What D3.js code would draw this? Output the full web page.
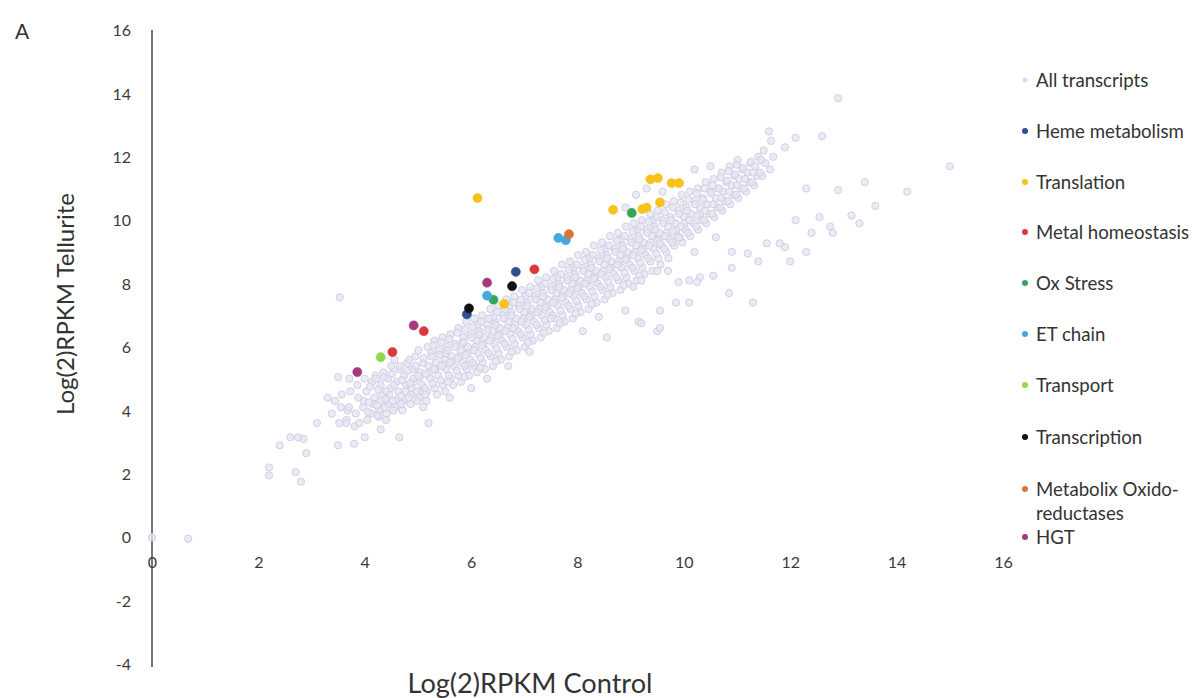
<!DOCTYPE html>
<html><head><meta charset="utf-8">
<script src="https://cdn.jsdelivr.net/npm/d3@7"></script>
<style>
html,body{margin:0;padding:0;background:#fff;}
svg{display:block;font-family:Lato,"Open Sans",sans-serif;}
</style></head>
<body>
<svg id="chart" width="1193" height="698"></svg>
<script>
// ---- data (log2 RPKM Control, log2 RPKM Tellurite) ----
const xTicks = [0,2,4,6,8,10,12,14,16];
const yTicks = [-4,-2,0,2,4,6,8,10,12,14,16];
const categories = ["All transcripts","Heme metabolism","Translation","Metal homeostasis","Ox Stress","ET chain","Transport","Transcription","Metabolix Oxido-\nreductases","HGT"];
const categoryColors = ["#dcdcee","#2f4f92","#f7c21c","#d9393c","#35a558","#46a8df","#90d84c","#111111","#dc7437","#a33a7b"];

const allTranscripts = [
[3.38,3.9],[3.44,4.3],[3.52,3.6],[3.57,4.5],[3.55,4.1],[3.68,4.0],[3.73,4.6],[3.66,3.7],[3.71,5.0],
[3.83,3.9],[3.88,4.4],[3.86,4.8],[3.81,3.5],[3.97,4.1],[4.03,4.6],[4.0,5.0],[4.05,3.7],[3.98,4.3],
[4.12,3.9],[4.18,4.4],[4.14,4.9],[4.2,5.1],[4.16,4.2],[4.27,4.0],[4.33,4.5],[4.3,4.8],[4.35,5.2],[4.26,3.8],[4.31,4.3],
[4.43,4.2],[4.48,4.7],[4.44,5.0],[4.5,5.4],[4.41,3.9],[4.46,4.5],[4.57,4.1],[4.63,4.6],[4.6,4.9],[4.65,5.3],[4.56,5.6],[4.61,4.35],
[4.72,4.3],[4.78,4.8],[4.74,5.1],[4.8,5.5],[4.71,4.0],[4.76,4.6],[4.87,4.5],[4.93,4.9],[4.9,5.3],[4.95,5.7],[4.86,4.2],[4.91,5.0],[4.88,4.7],
[5.02,4.4],[5.08,4.8],[5.04,5.2],[5.1,5.5],[5.01,5.9],[5.06,4.6],[5.03,5.05],[5.17,4.6],[5.23,5.0],[5.2,5.4],[5.25,5.8],[5.16,4.3],[5.21,5.2],[5.18,6.0],
[5.32,4.7],[5.38,5.1],[5.34,5.5],[5.4,5.9],[5.31,6.2],[5.36,4.5],[5.33,5.3],[5.47,4.8],[5.53,5.3],[5.5,5.6],[5.55,6.0],[5.46,6.3],[5.51,4.6],[5.48,5.45],[5.52,5.8],
[5.62,5.0],[5.68,5.4],[5.64,5.7],[5.7,6.1],[5.61,6.4],[5.66,4.8],[5.63,5.55],[5.77,5.1],[5.83,5.5],[5.8,5.9],[5.85,6.3],[5.76,6.6],[5.81,4.9],[5.78,5.7],[5.82,6.1],
[5.92,5.3],[5.98,5.6],[5.94,6.0],[6.0,6.4],[5.91,6.8],[5.96,5.1],[5.93,5.8],[6.07,5.4],[6.13,5.8],[6.1,6.2],[6.15,6.5],[6.06,6.9],[6.11,5.2],[6.08,6.0],[6.12,6.7],
[6.22,5.5],[6.28,5.9],[6.24,6.3],[6.3,6.7],[6.21,7.0],[6.26,5.3],[6.23,6.1],[6.37,5.7],[6.43,6.1],[6.4,6.5],[6.45,6.8],[6.36,7.2],[6.41,5.4],[6.38,6.3],[6.42,6.95],
[6.52,5.8],[6.58,6.2],[6.54,6.6],[6.6,7.0],[6.51,7.3],[6.56,5.6],[6.53,6.4],[6.67,6.0],[6.73,6.4],[6.7,6.8],[6.75,7.1],[6.66,7.5],[6.71,5.7],[6.68,6.6],[6.72,7.3],
[6.82,6.1],[6.88,6.5],[6.84,6.9],[6.9,7.3],[6.81,7.6],[6.86,5.9],[6.83,6.7],[6.97,6.3],[7.03,6.7],[7.0,7.1],[7.05,7.4],[6.96,7.8],[7.01,6.0],[6.98,6.9],[7.02,7.6],
[7.12,6.4],[7.18,6.8],[7.14,7.2],[7.2,7.6],[7.11,7.9],[7.16,6.2],[7.13,7.0],[7.27,6.6],[7.33,7.0],[7.3,7.4],[7.35,7.7],[7.26,8.1],[7.31,6.3],[7.28,7.2],[7.32,7.9],
[7.42,6.7],[7.48,7.1],[7.44,7.5],[7.5,7.9],[7.41,8.2],[7.46,6.5],[7.43,7.3],[7.57,6.9],[7.63,7.3],[7.6,7.7],[7.65,8.0],[7.56,8.4],[7.61,6.6],[7.58,7.5],[7.62,8.2],
[7.72,7.0],[7.78,7.4],[7.74,7.8],[7.8,8.2],[7.71,8.6],[7.76,6.8],[7.73,7.6],[7.87,7.2],[7.93,7.6],[7.9,8.0],[7.95,8.3],[7.86,8.7],[7.91,6.9],[7.88,7.8],[7.92,8.5],
[8.02,7.3],[8.08,7.7],[8.04,8.1],[8.1,8.5],[8.01,8.9],[8.06,7.1],[8.03,7.9],[8.17,7.5],[8.23,7.9],[8.2,8.3],[8.25,8.6],[8.16,9.0],[8.21,7.2],[8.18,8.1],[8.22,8.8],
[8.32,7.6],[8.38,8.0],[8.34,8.4],[8.4,8.8],[8.31,9.2],[8.36,7.4],[8.33,8.2],[8.47,7.8],[8.53,8.2],[8.5,8.6],[8.55,8.9],[8.46,9.3],[8.51,7.5],[8.48,8.4],[8.52,9.1],
[8.62,7.9],[8.68,8.3],[8.64,8.7],[8.7,9.1],[8.61,9.5],[8.66,7.7],[8.63,8.5],[8.77,8.1],[8.83,8.5],[8.8,8.9],[8.85,9.2],[8.76,9.6],[8.81,7.8],[8.78,8.7],[8.82,9.4],
[8.92,8.2],[8.98,8.6],[8.94,9.0],[9.0,9.4],[8.91,9.8],[8.96,8.0],[8.93,8.8],[9.07,8.4],[9.13,8.8],[9.1,9.2],[9.15,9.5],[9.06,9.9],[9.11,8.1],[9.08,9.0],[9.12,9.7],
[9.22,8.5],[9.28,8.9],[9.24,9.3],[9.3,9.7],[9.21,10.0],[9.26,8.3],[9.23,9.1],[9.37,8.7],[9.43,9.1],[9.4,9.5],[9.45,9.8],[9.36,10.2],[9.41,8.4],[9.38,9.3],[9.42,10.0],
[9.52,8.8],[9.58,9.2],[9.54,9.6],[9.6,10.0],[9.51,10.3],[9.56,8.6],[9.53,9.4],[9.67,9.0],[9.73,9.4],[9.7,9.8],[9.75,10.1],[9.66,10.5],[9.71,8.8],[9.68,9.6],
[9.82,9.2],[9.88,9.5],[9.84,9.9],[9.9,10.3],[9.81,10.6],[9.86,9.7],[9.97,9.3],[10.03,9.7],[10.0,10.1],[10.05,10.4],[9.96,10.8],[10.01,9.9],
[10.12,9.5],[10.18,9.9],[10.14,10.2],[10.2,10.6],[10.11,10.9],[10.27,9.7],[10.33,10.0],[10.3,10.4],[10.35,10.7],[10.26,11.0],[10.31,10.2],
[10.42,9.9],[10.48,10.2],[10.44,10.5],[10.5,10.9],[10.41,11.2],[10.57,10.1],[10.63,10.4],[10.6,10.7],[10.65,11.0],[10.56,11.3],
[10.72,10.3],[10.78,10.6],[10.74,10.9],[10.8,11.2],[10.71,11.5],[10.87,10.5],[10.93,10.8],[10.9,11.1],[10.95,11.4],[10.86,11.7],
[11.02,10.7],[11.08,11.0],[11.04,11.3],[11.1,11.6],[11.01,11.9],[11.17,10.9],[11.23,11.2],[11.2,11.5],[11.25,11.8],
[11.32,11.1],[11.38,11.4],[11.34,11.7],[11.4,12.0],[11.47,11.4],[11.53,11.8],[11.5,12.2],[11.62,11.6],[11.68,12.0],[11.64,12.5],
[4.08,4.25],[4.1,4.75],[4.06,3.95],[4.23,4.15],[4.25,4.65],[4.21,5.0],[4.24,3.85],[4.38,4.1],[4.4,4.6],[4.36,5.05],[4.39,4.35],
[4.53,4.3],[4.55,4.8],[4.51,5.15],[4.54,4.0],[4.68,4.45],[4.7,4.95],[4.66,5.4],[4.69,4.2],[4.83,4.4],[4.85,4.85],[4.81,5.25],[4.84,5.6],
[4.98,4.6],[5.0,5.1],[4.96,5.4],[4.99,4.3],[5.13,4.7],[5.15,5.15],[5.11,5.65],[5.14,4.5],[5.28,4.85],[5.3,5.3],[5.26,5.7],[5.29,6.05],
[5.43,4.95],[5.45,5.4],[5.41,5.75],[5.44,6.15],[5.58,5.1],[5.6,5.5],[5.56,5.9],[5.59,6.25],[5.57,4.9],[5.73,5.25],[5.75,5.65],[5.71,6.0],[5.74,6.45],
[5.88,5.4],[5.9,5.75],[5.86,6.15],[5.89,6.55],[5.87,5.05],[6.03,5.5],[6.05,5.9],[6.01,6.3],[6.04,6.65],[6.18,5.65],[6.2,6.05],[6.16,6.4],[6.19,6.8],[6.17,5.35],
[6.33,5.8],[6.35,6.2],[6.31,6.55],[6.34,6.9],[6.48,5.95],[6.5,6.35],[6.46,6.7],[6.49,7.1],[6.47,5.55],[6.63,6.1],[6.65,6.5],[6.61,6.9],[6.64,7.2],
[6.78,6.25],[6.8,6.6],[6.76,7.0],[6.79,7.4],[6.77,5.85],[6.93,6.4],[6.95,6.8],[6.91,7.2],[6.94,7.5],[7.08,6.55],[7.1,6.95],[7.06,7.3],[7.09,7.7],[7.07,6.15],
[7.23,6.7],[7.25,7.1],[7.21,7.5],[7.24,7.85],[7.38,6.85],[7.4,7.25],[7.36,7.6],[7.39,8.0],[7.37,6.45],[7.53,7.0],[7.55,7.4],[7.51,7.8],[7.54,8.15],
[7.68,7.15],[7.7,7.55],[7.66,7.9],[7.69,8.3],[7.67,6.75],[7.83,7.3],[7.85,7.7],[7.81,8.1],[7.84,8.45],[7.98,7.45],[8.0,7.85],[7.96,8.2],[7.99,8.6],[7.97,7.05],
[8.13,7.6],[8.15,8.0],[8.11,8.4],[8.14,8.75],[8.28,7.75],[8.3,8.15],[8.26,8.5],[8.29,8.9],[8.27,7.35],[8.43,7.9],[8.45,8.3],[8.41,8.7],[8.44,9.05],
[8.58,8.05],[8.6,8.45],[8.56,8.8],[8.59,9.2],[8.57,7.65],[8.73,8.2],[8.75,8.6],[8.71,9.0],[8.74,9.35],[8.88,8.35],[8.9,8.75],[8.86,9.1],[8.89,9.5],[8.87,7.95],
[9.03,8.5],[9.05,8.9],[9.01,9.3],[9.04,9.65],[9.18,8.65],[9.2,9.05],[9.16,9.4],[9.19,9.8],[9.17,8.25],[9.33,8.8],[9.35,9.2],[9.31,9.6],[9.34,9.95],
[9.48,8.95],[9.5,9.35],[9.46,9.7],[9.49,10.1],[9.63,9.1],[9.65,9.5],[9.61,9.9],[9.64,10.25],[9.78,9.3],[9.8,9.65],[9.76,10.0],[9.79,10.4],
[9.93,9.45],[9.95,9.8],[9.91,10.2],[9.94,10.55],[10.08,9.6],[10.1,10.0],[10.06,10.3],[10.09,10.65],[10.23,9.8],[10.25,10.15],[10.21,10.5],[10.24,10.85],
[10.38,10.0],[10.4,10.3],[10.36,10.65],[10.39,11.0],[10.53,10.2],[10.55,10.5],[10.51,10.85],[10.54,11.1],[10.68,10.4],[10.7,10.7],[10.66,11.0],[10.69,11.35],
[10.83,10.6],[10.85,10.9],[10.81,11.25],[10.84,11.55],[10.98,10.8],[11.0,11.1],[10.96,11.45],[10.99,11.75],[11.13,11.0],[11.15,11.3],[11.11,11.65],
[11.28,11.2],[11.3,11.5],[11.26,11.85],[11.43,11.5],[11.45,11.9],
[9.1,10.8],[9.6,10.9],[9.3,11.0],[8.9,10.4],[10.2,11.6],[10.5,11.7],[11.6,12.8],[11.9,12.3],[12.1,12.6],
[8.1,6.5],[8.55,6.3],[8.4,6.95],[9.15,6.8],[9.5,6.5],[9.2,6.75],[9.55,6.6],[8.9,7.15],[9.55,7.15],[9.85,7.4],[10.1,7.4],[9.05,7.9],[9.2,8.1],
[9.5,8.4],[9.7,8.4],[9.9,8.05],[10.1,8.1],[10.3,8.2],[10.55,8.25],[10.25,8.05],[10.9,8.5],[10.85,7.7],[11.3,7.4],[11.4,8.7],[12.0,8.7],[11.2,8.95],
[10.9,9.0],[10.2,9.0],[12.3,9.0],[11.9,9.15],[11.56,9.27],[11.8,9.27],[10.6,9.46],[9.9,9.45],[9.55,9.27],[12.1,10.0],[12.4,9.6],[12.8,9.6],[12.75,9.8],
[12.55,10.1],[13.15,10.15],[13.3,9.9],[13.6,10.45],[12.9,10.95],[13.4,11.2],[14.2,10.9],[12.3,11.0],[12.6,12.65],[12.9,13.85],[15.0,11.7],
[2.6,3.15],[2.75,3.15],[2.85,3.1],[2.4,2.9],[2.9,2.65],[2.2,2.2],[2.2,1.95],[2.7,2.05],[2.8,1.75],[3.5,2.9],[3.8,2.95],[4.0,3.15],[4.3,3.4],
[4.65,3.15],[5.2,3.6],[3.65,3.6],[3.9,3.6],[3.5,5.05],[6.0,4.7],[6.7,5.4],[7.1,5.85],[7.5,6.9],[5.1,4.1],[3.7,4.1],[3.53,7.57],[4.4,3.7],
[5.6,4.4],[6.3,5.0],[0,0],[0.68,-0.05],[3.3,4.4],[3.1,3.6]
];
const hemeMetabolism = [[6.84,8.37],[5.92,7.03]];
const translation = [[6.12,10.70],[6.62,7.36],[8.67,10.33],[9.22,10.35],[9.3,10.4],[9.55,10.56],[9.37,11.29],[9.51,11.33],[9.77,11.17],[9.91,11.17]];
const metalHomeostasis = [[7.19,8.45],[5.11,6.50],[4.52,5.84]];
const oxStress = [[6.42,7.49],[9.02,10.23]];
const etChain = [[7.64,9.44],[7.78,9.37],[6.30,7.62]];
const transport = [[4.30,5.68]];
const transcription = [[6.77,7.92],[5.96,7.22]];
const metabolixOxidoreductases = [[7.84,9.56]];
const hgt = [[6.30,8.03],[4.92,6.68],[3.86,5.21]];
const highlighted = [hemeMetabolism,translation,metalHomeostasis,oxStress,etChain,transport,transcription,metabolixOxidoreductases,hgt];

// ---- drawing ----
const svg = d3.select("#chart");
const x = d3.scaleLinear().domain([0,16]).range([152,1003]);
const y = d3.scaleLinear().domain([-4,16]).range([664,30]);
const fmt = d => String(d);

function fitWidth(sel, target){
  const fs = parseFloat(sel.attr("font-size"));
  const w = sel.node().getComputedTextLength();
  if (w > 0) sel.attr("font-size", fs * target / w);
  return sel;
}

// y axis (vertical line only, labels on the left)
const yAxis = d3.axisLeft(y).tickValues(yTicks).tickSize(0).tickPadding(21).tickFormat(fmt);
const gy = svg.append("g").attr("transform",`translate(${x(0)},0)`).call(yAxis);
gy.select(".domain").attr("stroke","#555").attr("stroke-width",1.6).attr("d",`M0,${y(16)}V${y(-4)+3}`);
gy.selectAll("text").attr("font-size",16).attr("fill","#3a3a3a").attr("font-family","Lato,sans-serif").attr("dy","0.35em");

// x axis at y=0: labels only
const xAxis = d3.axisBottom(x).tickValues(xTicks).tickSize(0).tickPadding(19).tickFormat(fmt);
const gx = svg.append("g").attr("transform",`translate(0,${y(0)})`).call(xAxis);
gx.select(".domain").remove();
gx.selectAll("text").attr("font-size",16).attr("fill","#3a3a3a").attr("font-family","Lato,sans-serif");

// all transcripts
svg.append("g").selectAll("circle").data(allTranscripts).join("circle")
  .attr("cx",d=>x(d[0])).attr("cy",d=>y(d[1])).attr("r",3.6)
  .attr("fill","#e6e6f3").attr("fill-opacity",0.8)
  .attr("stroke","#cfcfe5").attr("stroke-width",1);

// highlighted groups
highlighted.forEach((grp,i)=>{
  svg.append("g").selectAll("circle").data(grp).join("circle")
    .attr("cx",d=>x(d[0])).attr("cy",d=>y(d[1])).attr("r",4.6)
    .attr("fill",categoryColors[i+1]).attr("stroke",categoryColors[i+1]).attr("stroke-opacity",0.5).attr("stroke-width",1);
});

// legend
const legendY = [80,131,182,232,283,334,385,437,489,537];
const lg = svg.append("g");
const probe = lg.append("text").attr("font-size",16).text(categories[1]);
fitWidth(probe,148);
const legendFs = parseFloat(probe.attr("font-size"));
probe.remove();
categories.forEach((c,i)=>{
  lg.append("circle").attr("cx",1025).attr("cy",legendY[i]).attr("r",i===0?2.5:3)
    .attr("fill",categoryColors[i]);
  const lines = c.split("\n");
  lines.forEach((ln,j)=>{
    lg.append("text").attr("x",1036).attr("y",legendY[i]+j*24).attr("dy","0.35em")
      .attr("font-size",legendFs).attr("fill","#333").text(ln);
  });
});

// titles
svg.append("text").attr("x",15).attr("y",32).attr("dy","0.35em").attr("font-size",21).attr("fill","#333").text("A");
const xt = svg.append("text").attr("x",530).attr("y",684).attr("dy","0.35em").attr("text-anchor","middle")
  .attr("font-size",23).attr("fill","#333").text("Log(2)RPKM Control");
fitWidth(xt,245);
const yt = svg.append("text").attr("transform","translate(66,304) rotate(-90)").attr("dy","0.35em").attr("text-anchor","middle")
  .attr("font-size",23).attr("fill","#333").text("Log(2)RPKM Tellurite");
fitWidth(yt,222);
</script>
</body></html>
